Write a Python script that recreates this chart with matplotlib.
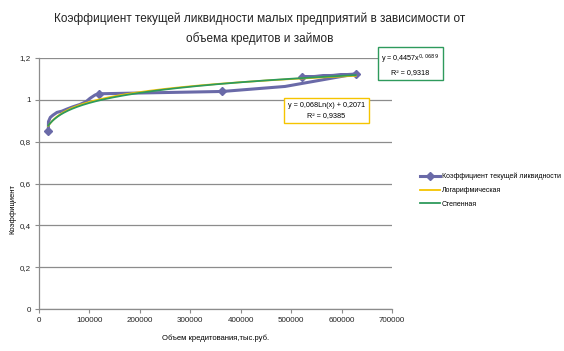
import matplotlib
matplotlib.use("Agg")
import matplotlib.pyplot as plt
import numpy as np
from matplotlib.ticker import FuncFormatter

plt.rcParams["font.family"] = ["Liberation Sans", "DejaVu Sans"]

# Data
credit_volume = [18500, 18800, 22400, 27800, 35700, 45600, 55500, 67400, 81300,
                 93200, 101000, 111000, 119600, 363500, 488000, 626000, 521000, 628000]
liquidity = [0.851, 0.896, 0.916, 0.927, 0.940, 0.946, 0.956, 0.967, 0.978,
             0.991, 1.007, 1.023, 1.029, 1.040, 1.064, 1.123, 1.108, 1.122]
marker_idx = [0, 12, 13, 16, 17]

# Trend line coefficients shown on the chart
log_a, log_b = 0.068, 0.2071
pow_a, pow_b = 0.4457, 0.0689
log_r2 = "0,9385"
pow_r2 = "0,9318"

title = "Коэффициент текущей ликвидности малых предприятий в зависимости от\nобъема кредитов и займов"
xlabel = "Объем кредитования,тыс.руб."
ylabel = "Коэффициент"
series_names = ["Коэффициент текущей ликвидности", "Логарифмическая", "Степенная"]
xticks = [0, 100000, 200000, 300000, 400000, 500000, 600000, 700000]
yticks = [0, 0.2, 0.4, 0.6, 0.8, 1.0, 1.2]

purple = "#6A6AA8"
yellow = "#F5C400"
green = "#2E9A5C"
grid = "#8C8C8C"

fig = plt.figure(figsize=(5.64, 3.51), dpi=100)
ax = fig.add_axes([39/564, 42/351, (392-39)/564, (309-58)/351])

xs = np.linspace(min(credit_volume), max(credit_volume), 300)
y_log = log_a * np.log(xs) + log_b
y_pow = pow_a * xs ** pow_b

ax.plot(credit_volume, liquidity, color=purple, lw=2.2, marker="D", ms=4.5,
        markevery=marker_idx, label=series_names[0], zorder=3)
ax.plot(xs, y_log, color=yellow, lw=1.3, label=series_names[1], zorder=4)
ax.plot(xs, y_pow, color=green, lw=1.3, label=series_names[2], zorder=5)

ax.set_xlim(0, 700000)
ax.set_ylim(0, 1.2)
ax.set_xticks(xticks)
ax.set_yticks(yticks)
ax.xaxis.set_major_formatter(FuncFormatter(lambda v, p: f"{int(v)}"))
ax.yaxis.set_major_formatter(FuncFormatter(lambda v, p: (f"{v:.1f}".rstrip("0").rstrip(".")).replace(".", ",")))
ax.tick_params(labelsize=5.8, length=3, width=0.8, direction="out", pad=3)
ax.tick_params(axis="x", colors=grid, labelcolor="#222222")
ax.tick_params(axis="y", colors=grid, labelcolor="#222222")
ax.yaxis.grid(True, color=grid, lw=0.9)
ax.set_axisbelow(True)
for s in ["top", "right"]:
    ax.spines[s].set_visible(False)
for s in ["left", "bottom"]:
    ax.spines[s].set_color(grid)
    ax.spines[s].set_linewidth(0.9)

ax.set_xlabel(xlabel, fontsize=5.5)
ax.xaxis.set_label_coords(0.5, (309 - 335) / 251)
ax.set_ylabel(ylabel, fontsize=5.5)
ax.yaxis.set_label_coords((16 - 39) / 353, 0.40)

fig.text(260/564, 1 - 29/351, title, ha="center", va="center", fontsize=8.5,
         linespacing=1.75, color="#222222")

leg = fig.legend(loc="upper left", bbox_to_anchor=(420/564, 1 - 173/351), frameon=False,
                 fontsize=5.0, handlelength=2.9, handletextpad=0.2, labelspacing=0.95,
                 borderaxespad=0, borderpad=0)

ax.text(0.814, 0.791,
        f"y = {str(log_a).replace('.', ',')}Ln(x) + {str(log_b).replace('.', ',')}\nR² = {log_r2}",
        transform=ax.transAxes, fontsize=5.2, ha="center", va="center", linespacing=1.6,
        bbox=dict(boxstyle="square,pad=0.5", fc="white", ec=yellow, lw=1.0), zorder=6)
ax.text(1.052, 0.974,
        f"y = {str(pow_a).replace('.', ',')}x$^{{{str(pow_b).replace('.', ',')}}}$\nR² = {pow_r2}",
        transform=ax.transAxes, fontsize=5.2, ha="center", va="center", linespacing=1.6,
        bbox=dict(boxstyle="square,pad=0.5", fc="white", ec=green, lw=1.0), clip_on=False, zorder=6)

fig.savefig("out.png", dpi=100)
